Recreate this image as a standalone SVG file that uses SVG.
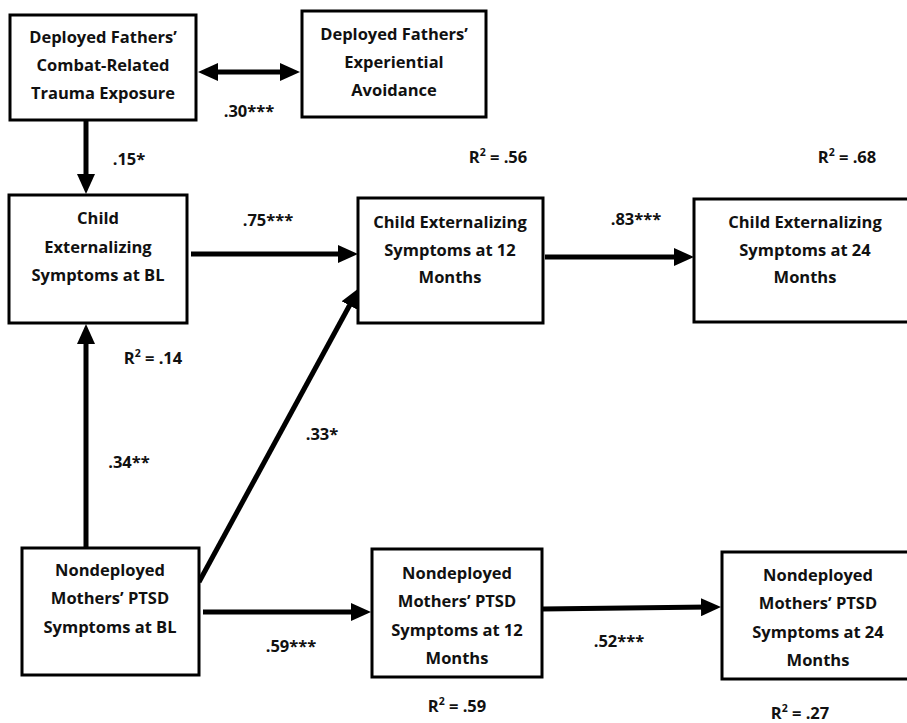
<svg xmlns="http://www.w3.org/2000/svg" width="907" height="723" viewBox="0 0 907 723">
<style>
.box{fill:#fff;stroke:#000;stroke-width:3}
.t{font-family:"Open Sans","Liberation Sans",sans-serif;font-weight:bold;font-size:16.5px;fill:#111;text-anchor:middle}
.c{stroke:#000;stroke-width:5;fill:none}
.sup{font-size:10.5px}
</style>
<defs>
<marker id="ah" markerUnits="userSpaceOnUse" markerWidth="20" markerHeight="18" refX="8" refY="9" orient="auto-start-reverse" viewBox="0 0 20 18">
<path d="M0,0 L20,9 L0,18 z" fill="#000"/>
</marker>
</defs>
<rect width="907" height="723" fill="#fff"/>
<g id="connectors">
<line class="c" x1="210" y1="72" x2="288" y2="72" marker-start="url(#ah)" marker-end="url(#ah)"/>
<line class="c" x1="86" y1="121" x2="86" y2="182" marker-end="url(#ah)"/>
<line class="c" x1="191" y1="254" x2="346" y2="254" marker-end="url(#ah)"/>
<line class="c" x1="545" y1="257" x2="682" y2="257" marker-end="url(#ah)"/>
<line class="c" x1="86" y1="547" x2="86" y2="336" marker-end="url(#ah)"/>
<line class="c" x1="199" y1="582" x2="353.3" y2="298.5" marker-end="url(#ah)"/>
<line class="c" x1="203" y1="612" x2="359" y2="612" marker-end="url(#ah)"/>
<line class="c" x1="542" y1="609" x2="709" y2="607.1" marker-end="url(#ah)"/>
</g>
<g id="labels">
<text class="t" x="249" y="117">.30***</text>
<text class="t" x="129" y="165">.15*</text>
<text class="t" x="268" y="226">.75***</text>
<text class="t" x="636" y="225">.83***</text>
<text class="t" x="498" y="163">R<tspan class="sup" dy="-7">2</tspan><tspan dy="7"> = .56</tspan></text>
<text class="t" x="847" y="163">R<tspan class="sup" dy="-7">2</tspan><tspan dy="7"> = .68</tspan></text>
<text class="t" x="153" y="364">R<tspan class="sup" dy="-7">2</tspan><tspan dy="7"> = .14</tspan></text>
<text class="t" x="129" y="468">.34**</text>
<text class="t" x="322" y="440">.33*</text>
<text class="t" x="291" y="652">.59***</text>
<text class="t" x="619" y="647">.52***</text>
<text class="t" x="457" y="712">R<tspan class="sup" dy="-7">2</tspan><tspan dy="7"> = .59</tspan></text>
<text class="t" x="800" y="719">R<tspan class="sup" dy="-7">2</tspan><tspan dy="7"> = .27</tspan></text>
</g>
<g id="n-trauma">
<rect class="box" x="10" y="15" width="186" height="105"/>
<text class="t" x="103" y="43">Deployed Fathers’</text>
<text class="t" x="103" y="71">Combat-Related</text>
<text class="t" x="103" y="99">Trauma Exposure</text>
</g>
<g id="n-avoid">
<rect class="box" x="302" y="11" width="184" height="106"/>
<text class="t" x="394" y="40">Deployed Fathers’</text>
<text class="t" x="394" y="68">Experiential</text>
<text class="t" x="394" y="96">Avoidance</text>
</g>
<g id="n-childbl">
<rect class="box" x="9" y="195" width="178" height="128"/>
<text class="t" x="98" y="224">Child</text>
<text class="t" x="98" y="253">Externalizing</text>
<text class="t" x="98" y="281">Symptoms at BL</text>
</g>
<g id="n-child12">
<rect class="box" x="358" y="198" width="185" height="125"/>
<text class="t" x="450" y="228">Child Externalizing</text>
<text class="t" x="450" y="256">Symptoms at 12</text>
<text class="t" x="450" y="283">Months</text>
</g>
<g id="n-child24">
<rect class="box" x="694" y="199" width="222" height="123"/>
<text class="t" x="805" y="228">Child Externalizing</text>
<text class="t" x="805" y="256">Symptoms at 24</text>
<text class="t" x="805" y="283">Months</text>
</g>
<g id="n-mombl">
<rect class="box" x="22" y="548" width="177" height="127"/>
<text class="t" x="110" y="576">Nondeployed</text>
<text class="t" x="110" y="604">Mothers’ PTSD</text>
<text class="t" x="110" y="633">Symptoms at BL</text>
</g>
<g id="n-mom12">
<rect class="box" x="372" y="549" width="170" height="128"/>
<text class="t" x="457" y="579">Nondeployed</text>
<text class="t" x="457" y="607">Mothers’ PTSD</text>
<text class="t" x="457" y="636">Symptoms at 12</text>
<text class="t" x="457" y="664">Months</text>
</g>
<g id="n-mom24">
<rect class="box" x="722" y="552" width="194" height="127"/>
<text class="t" x="818" y="581">Nondeployed</text>
<text class="t" x="818" y="609">Mothers’ PTSD</text>
<text class="t" x="818" y="638">Symptoms at 24</text>
<text class="t" x="818" y="666">Months</text>
</g>
</svg>
